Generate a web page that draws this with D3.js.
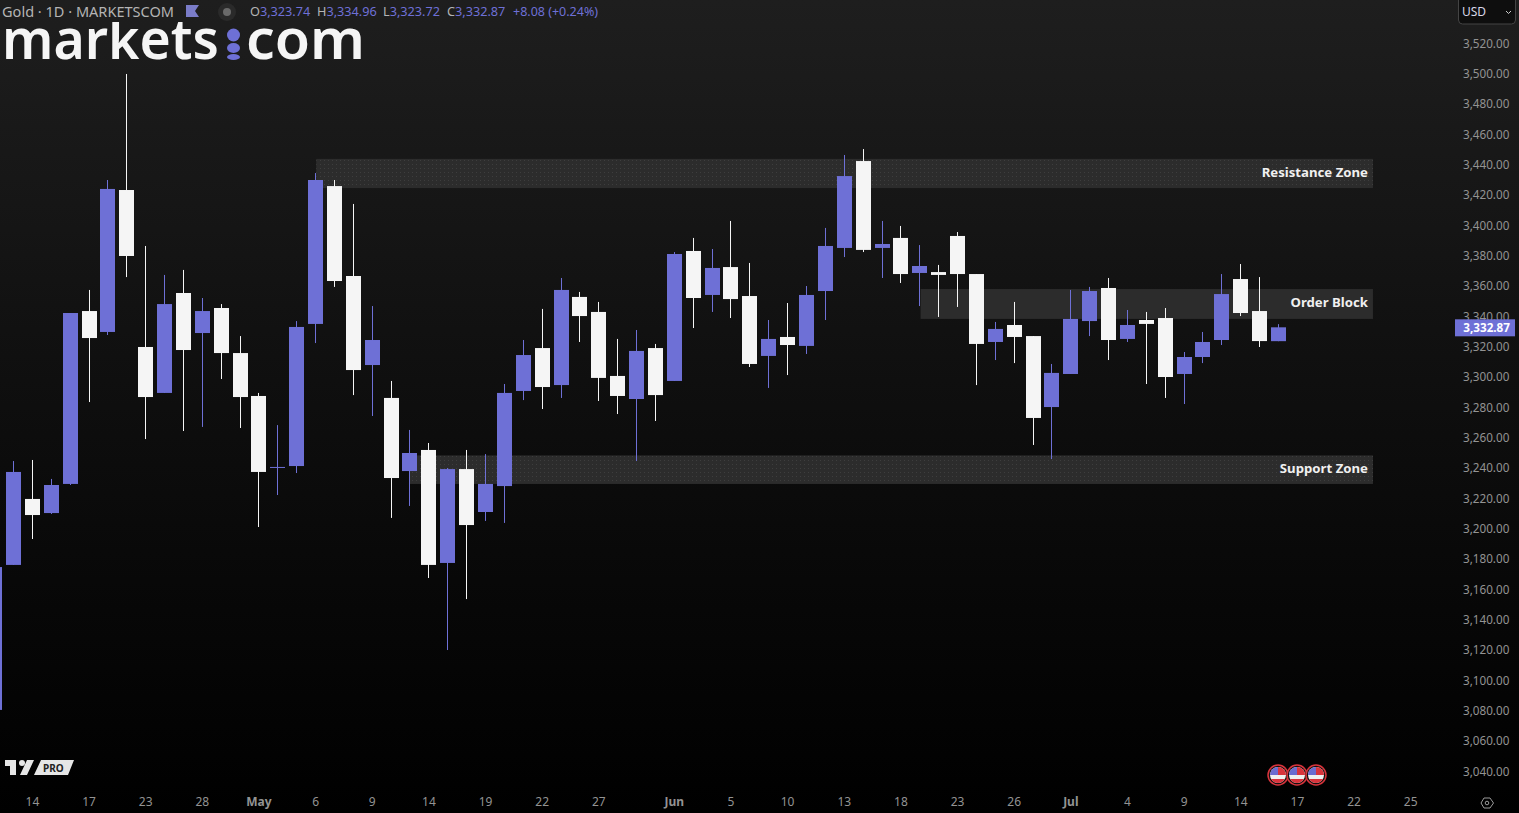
<!DOCTYPE html>
<html lang="en">
<head>
    <meta charset="UTF-8">
    <title>Gold 1D</title>
    <script src="https://d3js.org/d3.v7.min.js"></script>
    <style>
        html, body { margin: 0; padding: 0; background: #000; overflow: hidden; }
        text { font-family: "Noto Sans", sans-serif; }
    </style>
</head>
<body>
<script>
    const width = 1519;
    const height = 813;

    // first candle is the one cut off by the left edge (index -1)
    const open = [3080.6, 3176.2, 3219.7, 3210.4, 3229.6, 3343.6, 3329.8, 3423.4, 3319.9, 3289.6, 3355.5, 3329.1, 3345.6, 3315.9, 3287.6, 3240.4, 3241.4, 3335.1, 3426.0, 3366.7, 3308.0, 3286.3, 3238.1, 3252.0, 3177.5, 3239.4, 3211.1, 3228.2, 3290.9, 3319.2, 3294.8, 3352.9, 3343.0, 3300.8, 3285.6, 3319.2, 3297.5, 3383.2, 3354.2, 3372.6, 3353.5, 3314.0, 3326.5, 3320.6, 3356.8, 3385.2, 3442.5, 3385.2, 3391.8, 3368.7, 3369.3, 3393.1, 3368.0, 3323.2, 3334.4, 3327.1, 3280.3, 3302.1, 3337.0, 3358.8, 3325.2, 3337.7, 3339.0, 3302.1, 3313.3, 3324.5, 3364.7, 3343.6, 3323.74];
    const high = [3174.8, 3244.7, 3245.4, 3232.9, 3342.3, 3357.5, 3430.0, 3499.9, 3386.5, 3367.4, 3370.7, 3352.2, 3348.2, 3327.1, 3289.6, 3268.4, 3337.0, 3434.6, 3430.0, 3414.2, 3346.9, 3297.5, 3265.2, 3256.6, 3240.1, 3252.0, 3249.3, 3295.5, 3324.5, 3345.0, 3365.4, 3356.2, 3349.6, 3325.2, 3331.1, 3321.9, 3382.5, 3391.8, 3384.5, 3403.0, 3375.3, 3337.7, 3348.9, 3360.1, 3398.4, 3446.5, 3450.4, 3403.0, 3399.7, 3387.1, 3374.0, 3395.7, 3368.0, 3336.4, 3349.6, 3327.1, 3308.7, 3357.5, 3359.5, 3365.4, 3344.3, 3343.0, 3345.6, 3316.6, 3329.8, 3368.0, 3374.6, 3366.0, 3334.96];
    const low = [3080.6, 3176.2, 3193.3, 3209.8, 3228.9, 3283.6, 3327.8, 3366.0, 3259.2, 3289.6, 3264.5, 3267.2, 3298.8, 3266.5, 3201.2, 3222.3, 3236.8, 3322.5, 3359.5, 3288.2, 3274.4, 3207.2, 3215.1, 3167.6, 3120.1, 3153.7, 3205.2, 3203.9, 3284.9, 3279.0, 3286.3, 3323.2, 3284.3, 3275.7, 3244.7, 3271.1, 3297.5, 3332.4, 3343.0, 3339.0, 3306.7, 3292.9, 3301.4, 3315.3, 3337.7, 3379.2, 3382.5, 3365.4, 3362.1, 3346.9, 3339.7, 3346.3, 3294.8, 3311.3, 3309.3, 3255.3, 3246.0, 3302.1, 3327.1, 3311.3, 3323.2, 3295.5, 3286.3, 3282.3, 3309.3, 3321.2, 3340.3, 3319.9, 3323.72];
    const close = [3174.8, 3237.5, 3209.1, 3228.9, 3342.3, 3325.8, 3424.1, 3379.9, 3286.9, 3348.2, 3317.9, 3343.6, 3315.9, 3286.9, 3237.5, 3240.8, 3333.1, 3430.0, 3363.4, 3304.7, 3324.5, 3233.5, 3250.0, 3176.2, 3239.4, 3202.5, 3229.6, 3289.6, 3314.6, 3293.5, 3357.5, 3340.3, 3299.5, 3287.6, 3317.3, 3288.2, 3381.2, 3352.2, 3372.0, 3351.5, 3308.7, 3325.2, 3321.2, 3354.2, 3386.5, 3432.6, 3383.9, 3387.8, 3368.0, 3373.3, 3367.4, 3368.0, 3321.9, 3331.8, 3326.5, 3273.1, 3302.8, 3338.4, 3356.8, 3324.5, 3334.4, 3335.1, 3300.1, 3313.3, 3323.2, 3354.8, 3342.3, 3323.8, 3332.87];

    const priceTicks = d3.range(3040, 3521, 20);
    const tickIndex = [1, 4, 7, 10, 13, 16, 19, 22, 25, 28, 31, 35, 38, 41, 44, 47, 50, 53, 56, 59, 62, 65, 68, 71, 74];
    const tickLabels = ["14", "17", "23", "28", "May", "6", "9", "14", "19", "22", "27", "Jun", "5", "10", "13", "18", "23", "26", "Jul", "4", "9", "14", "17", "22", "25"];

    const zoneNames = ["Resistance Zone", "Order Block", "Support Zone"];
    const zoneFrom = [16.06, 48.07, 21];
    const zoneTo = [72.03, 72.03, 72.03];
    const zoneTop = [3443.9, 3358.1, 3248.4];
    const zoneBottom = [3424.7, 3338.4, 3229.6];

    const purple = "#6e70d6";
    const white = "#f5f5f5";
    const candleWidth = 15;

    const svg = d3.select("body").append("svg")
            .attr("width", width).attr("height", height)
            .style("display", "block");

    const defs = svg.append("defs");
    const bg = defs.append("linearGradient").attr("id", "bg")
            .attr("x1", 0).attr("y1", 0).attr("x2", 0).attr("y2", 1);
    bg.append("stop").attr("offset", "0%").attr("stop-color", "#1e1e1e");
    bg.append("stop").attr("offset", "50%").attr("stop-color", "#0e0e0e");
    bg.append("stop").attr("offset", "100%").attr("stop-color", "#000");

    const dots = defs.append("pattern").attr("id", "dots")
            .attr("width", 4).attr("height", 4).attr("patternUnits", "userSpaceOnUse");
    dots.append("rect").attr("width", 4).attr("height", 4).attr("fill", "#2c2c2c");
    dots.append("rect").attr("width", 1).attr("height", 1).attr("fill", "#3e3e3e");

    // the logo has short ascenders, cut the text off where it stops
    defs.append("clipPath").attr("id", "logoClip")
            .append("rect").attr("x", 0).attr("y", 22).attr("width", 400).attr("height", 44);

    svg.append("rect").attr("width", width).attr("height", height).attr("fill", "url(#bg)");

    const x = d3.scaleLinear().domain([0, 67]).range([13, 1278]);
    const y = d3.scaleLinear().domain([3520, 3040]).range([43.5, 771.5]);

    // zones
    const zones = svg.append("g").selectAll("g")
            .data(zoneNames)
            .join("g");

    zones.append("rect")
            .attr("x", (d, i) => x(zoneFrom[i]))
            .attr("width", (d, i) => x(zoneTo[i]) - x(zoneFrom[i]))
            .attr("y", (d, i) => y(zoneTop[i]))
            .attr("height", (d, i) => y(zoneBottom[i]) - y(zoneTop[i]))
            .attr("fill", (d, i) => i === 1 ? "#2c2c2c" : "url(#dots)");

    // candles, index starts at -1
    const candles = svg.append("g").selectAll("g")
            .data(d3.range(open.length))
            .join("g")
            .attr("fill", i => close[i] >= open[i] ? purple : white);

    candles.append("rect")
            .attr("x", i => Math.round(x(i - 1)))
            .attr("width", 1)
            .attr("y", i => y(high[i]))
            .attr("height", i => y(low[i]) - y(high[i]));

    candles.append("rect")
            .attr("x", i => Math.round(x(i - 1)) - (candleWidth - 1) / 2)
            .attr("width", candleWidth)
            .attr("y", i => y(Math.max(open[i], close[i])))
            .attr("height", i => Math.max(1, Math.abs(y(open[i]) - y(close[i]))));

    zones.append("text")
            .attr("x", (d, i) => x(zoneTo[i]) - 5)
            .attr("y", (d, i) => (y(zoneTop[i]) + y(zoneBottom[i])) / 2 + 3.5)
            .attr("text-anchor", "end")
            .attr("font-size", 13.2)
            .attr("font-weight", 700)
            .attr("fill", "#f0f0f0")
            .text(d => d);
    // zones are appended before the candles, keep the labels on top of them
    svg.selectAll("text").raise();

    // price axis
    const yAxis = d3.axisRight(y)
            .tickValues(priceTicks)
            .tickSize(0)
            .tickFormat(d3.format(",.2f"));

    svg.append("g")
            .attr("transform", "translate(1463,0)")
            .call(yAxis)
            .call(g => g.select(".domain").remove())
            .call(g => g.selectAll("text")
                    .attr("x", 0)
                    .attr("font-size", 11.7)
                    .attr("font-family", "'Noto Sans', sans-serif")
                    .attr("fill", "#939393"));

    // time axis
    const xAxis = d3.axisBottom(x)
            .tickValues(tickIndex)
            .tickSize(0)
            .tickFormat((d, i) => tickLabels[i]);

    svg.append("g")
            .attr("transform", "translate(0,794)")
            .call(xAxis)
            .call(g => g.select(".domain").remove())
            .call(g => g.selectAll("text")
                    .attr("y", 3)
                    .attr("font-size", 12)
                    .attr("font-family", "'Noto Sans', sans-serif")
                    .attr("font-weight", (d, i) => isNaN(+tickLabels[i]) ? 700 : 400)
                    .attr("fill", "#939393"));

    // last price tag
    const last = close[close.length - 1];
    svg.append("rect")
            .attr("x", 1455).attr("width", 60)
            .attr("y", y(last) - 8).attr("height", 17)
            .attr("fill", purple);
    svg.append("text")
            .attr("x", 1510).attr("y", y(last) + 4.5)
            .attr("text-anchor", "end")
            .attr("font-size", 11.7).attr("font-weight", 700)
            .attr("fill", "#fff")
            .text(d3.format(",.2f")(last));

    // header
    svg.append("text").attr("x", 2).attr("y", 17)
            .attr("font-size", 14).attr("fill", "#b4b4b4")
            .attr("textLength", 172).attr("lengthAdjust", "spacingAndGlyphs")
            .text("Gold · 1D · MARKETSCOM");

    svg.append("path")
            .attr("d", "M186,5H199L195,11L199,17H186Z")
            .attr("fill", "#7a7cc8");

    svg.append("circle").attr("cx", 227).attr("cy", 12).attr("r", 9).attr("fill", "#2a2a2a");
    svg.append("circle").attr("cx", 227).attr("cy", 12).attr("r", 4).attr("fill", "#6a6a6a");

    const ohlcLetters = ["O", "H", "L", "C"];
    const ohlcValues = [open, high, low, close].map(a => a[a.length - 1]);
    const ohlcX = [250, 317, 383, 447];
    ohlcLetters.forEach((l, i) => {
        const t = svg.append("text").attr("x", ohlcX[i]).attr("y", 16)
                .attr("font-size", 12.7).attr("fill", "#b4b4b4");
        t.append("tspan").text(l);
        t.append("tspan").attr("fill", purple).text(d3.format(",.2f")(ohlcValues[i]));
    });
    svg.append("text").attr("x", 513).attr("y", 16)
            .attr("font-size", 12.5).attr("fill", purple)
            .text("+8.08 (+0.24%)");

    // markets.com logo
    const logo = svg.append("g").attr("fill", "#f5f5f5").attr("clip-path", "url(#logoClip)");
    logo.append("text").attr("x", 2).attr("y", 59)
            .attr("font-family", "Inter, sans-serif").attr("font-size", 56).attr("font-weight", 600)
            .attr("textLength", 217).attr("lengthAdjust", "spacingAndGlyphs")
            .text("markets");
    logo.append("text").attr("x", 246).attr("y", 59)
            .attr("font-family", "Inter, sans-serif").attr("font-size", 56).attr("font-weight", 600)
            .attr("textLength", 119).attr("lengthAdjust", "spacingAndGlyphs")
            .text("com");
    svg.append("circle").attr("cx", 233.5).attr("cy", 35).attr("r", 6.5).attr("fill", purple);
    svg.append("ellipse").attr("cx", 233.5).attr("cy", 48).attr("rx", 6.5).attr("ry", 5).attr("fill", purple);
    svg.append("ellipse").attr("cx", 233.5).attr("cy", 57).attr("rx", 6.5).attr("ry", 3).attr("fill", purple);

    // currency box
    svg.append("rect").attr("x", 1458.5).attr("y", -4).attr("width", 57).attr("height", 28).attr("rx", 4)
            .attr("fill", "#0e0e0e").attr("stroke", "#444");
    svg.append("text").attr("x", 1462).attr("y", 16)
            .attr("font-size", 12).attr("fill", "#d8d8e8").text("USD");
    svg.append("path").attr("d", "M1506,11L1508.5,13.5L1511,11")
            .attr("fill", "none").attr("stroke", "#ccc");

    // TradingView PRO badge
    svg.append("path")
            .attr("d", "M5,760H16V775H10V766H5Z M27,760H34L27,775H20Z")
            .attr("fill", "#e6e6e6");
    svg.append("circle").attr("cx", 22).attr("cy", 763).attr("r", 3).attr("fill", "#e6e6e6");
    svg.append("path").attr("d", "M41,760H74L68,775H34Z").attr("fill", "#e6e6e6");
    svg.append("text").attr("x", 43).attr("y", 771.5)
            .attr("font-size", 10).attr("font-weight", 700).attr("fill", "#222")
            .text("PRO");

    // calendar event flags
    const flagX = [1278, 1297, 1316];
    flagX.forEach(cx => {
        svg.append("circle").attr("cx", cx).attr("cy", 775).attr("r", 10)
                .attr("fill", "#111").attr("stroke", "#d8343c").attr("stroke-width", 1.5);
        svg.append("circle").attr("cx", cx).attr("cy", 775).attr("r", 8).attr("fill", "#f0f0f0");
        svg.append("path")
                .attr("d", `M${cx - 8},775a8,8 0 0 1 8,-8v8Z`)
                .attr("fill", "#6a6cd0");
        svg.append("path")
                .attr("d", `M${cx},767a8,8 0 0 1 8,8h-8Z`)
                .attr("fill", "#d8343c");
        svg.append("path")
                .attr("d", `M${cx - 6.9},779h13.8a8,8 0 0 1 -13.8,0Z`)
                .attr("fill", "#d8343c");
    });

    // settings hexagon
    svg.append("path")
            .attr("d", "M1481,803L1484,798H1490L1493.500,803L1490,808H1484Z")
            .attr("fill", "none").attr("stroke", "#9a9a9a");
    svg.append("circle").attr("cx", 1487).attr("cy", 803).attr("r", 1.8)
            .attr("fill", "none").attr("stroke", "#9a9a9a");
</script>
</body>
</html>
